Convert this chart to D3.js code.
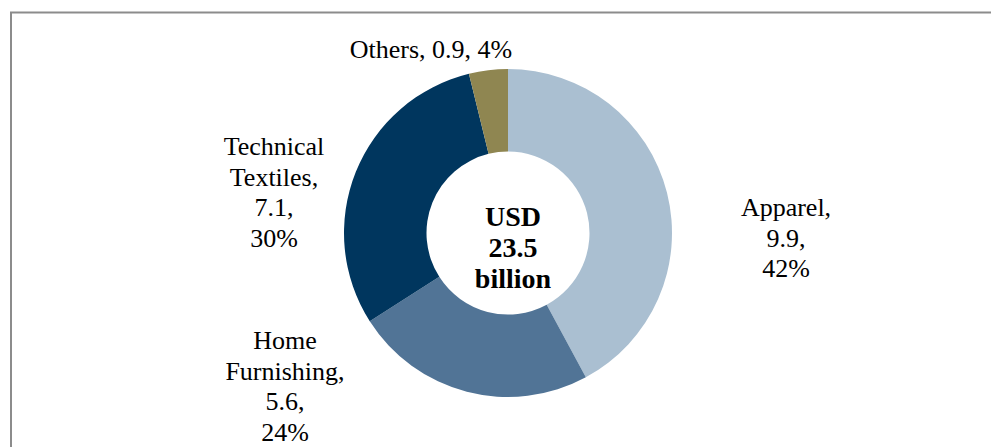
<!DOCTYPE html>
<html>
<head>
<meta charset="utf-8">
<script src="https://cdn.jsdelivr.net/npm/d3@7"></script>
<style>
  html, body { margin: 0; padding: 0; background: #ffffff; }
  svg { display: block; }
  text { font-family: "Liberation Serif", "Times New Roman", serif; fill: #000; }
</style>
</head>
<body>
<svg id="chart" width="991" height="447"></svg>
<script>
const categories = ["Apparel", "Home Furnishing", "Technical Textiles", "Others"];
const values = [9.9, 5.6, 7.1, 0.9];
const percents = ["42%", "24%", "30%", "4%"];
const colors = ["#AABFD1", "#517496", "#00365E", "#8F8651"];
const totalLabel = ["USD", "23.5", "billion"];
// label line breakdowns (text only)
const labelLines = [
  ["Apparel,", "9.9,", "42%"],
  ["Home", "Furnishing,", "5.6,", "24%"],
  ["Technical", "Textiles,", "7.1,", "30%"],
  ["Others, 0.9, 4%"]
];

const svg = d3.select("#chart");

// frame
svg.append("rect")
  .attr("x", 11).attr("y", 12.5)
  .attr("width", 990).attr("height", 450)
  .attr("fill", "none")
  .attr("stroke", "#8c8c8c")
  .attr("stroke-width", 2);

const cx = 508, cy = 233;
const outerR = 164, innerR = 81.5;

const pie = d3.pie().sort(null).value(d => d);
const arcs = pie(values);
const arc = d3.arc().innerRadius(innerR).outerRadius(outerR);

const g = svg.append("g").attr("transform", `translate(${cx},${cy})`);
g.selectAll("path")
  .data(arcs)
  .join("path")
  .attr("d", arc)
  .attr("fill", (d, i) => colors[i]);

// center label
const ct = svg.append("text")
  .attr("text-anchor", "middle")
  .attr("font-weight", "bold")
  .attr("font-size", 28);
totalLabel.forEach((t, i) => {
  ct.append("tspan").attr("x", 513).attr("y", 226 + i * 31).text(t);
});

// outside labels: anchor positions (center x, first baseline y)
const labelPos = [
  [786, 216],
  [285, 349],
  [274, 155],
  [431, 58]
];
const lineH = 30.5;
labelLines.forEach((lines, i) => {
  const t = svg.append("text")
    .attr("text-anchor", "middle")
    .attr("font-size", 26);
  lines.forEach((l, j) => {
    t.append("tspan")
      .attr("x", labelPos[i][0])
      .attr("y", labelPos[i][1] + j * lineH)
      .text(l);
  });
});
</script>
</body>
</html>
